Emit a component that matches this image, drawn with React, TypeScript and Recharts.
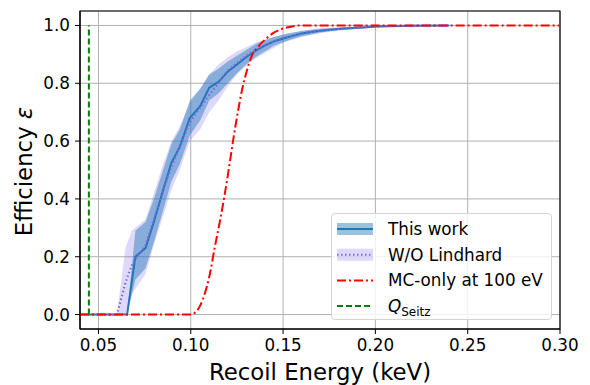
import React from 'react';
import {
  ComposedChart, Line, Area, XAxis, YAxis, CartesianGrid, ReferenceArea, Legend,
} from 'recharts';

// ---------- data ----------
const energyThisWork = [0.04, 0.0655, 0.07, 0.0755, 0.08, 0.085, 0.0895, 0.094, 0.0995, 0.105, 0.11, 0.115, 0.12, 0.125, 0.13, 0.135, 0.14, 0.145, 0.15, 0.155, 0.16, 0.165, 0.17, 0.175, 0.18, 0.185, 0.19, 0.195, 0.2, 0.21, 0.22, 0.24];
const effThisWork = [0, 0, 0.2, 0.23, 0.32, 0.43, 0.525, 0.58, 0.68, 0.72, 0.785, 0.805, 0.84, 0.865, 0.89, 0.912, 0.93, 0.945, 0.955, 0.964, 0.972, 0.977, 0.982, 0.985, 0.988, 0.99, 0.992, 0.994, 0.996, 0.998, 0.999, 1.0];

const energyBand = [0.04, 0.0655, 0.07, 0.0755, 0.08, 0.085, 0.0895, 0.094, 0.0995, 0.105, 0.11, 0.115, 0.12, 0.125, 0.13, 0.135, 0.14, 0.145, 0.15, 0.155, 0.16, 0.165, 0.17, 0.18, 0.19, 0.2, 0.22, 0.24];
const bandLow = [0, 0, 0.12, 0.16, 0.25, 0.36, 0.46, 0.52, 0.62, 0.67, 0.74, 0.765, 0.8, 0.835, 0.865, 0.89, 0.91, 0.93, 0.942, 0.953, 0.963, 0.969, 0.976, 0.984, 0.989, 0.994, 0.998, 1.0];
const bandHigh = [0, 0, 0.29, 0.32, 0.4, 0.5, 0.59, 0.64, 0.74, 0.78, 0.83, 0.85, 0.875, 0.895, 0.915, 0.935, 0.95, 0.96, 0.968, 0.975, 0.981, 0.985, 0.988, 0.992, 0.995, 0.998, 1.0, 1.0];

const energyNoLindhard = [0.04, 0.06, 0.0646, 0.068, 0.072, 0.0755, 0.08, 0.085, 0.0895, 0.094, 0.0995, 0.105, 0.11, 0.115, 0.12, 0.125, 0.13, 0.135, 0.14, 0.145, 0.15, 0.16, 0.17, 0.18, 0.19, 0.2, 0.22, 0.24];
const effNoLindhard = [0, 0, 0.11, 0.17, 0.21, 0.24, 0.33, 0.43, 0.51, 0.58, 0.665, 0.715, 0.76, 0.8, 0.845, 0.87, 0.895, 0.915, 0.93, 0.945, 0.955, 0.972, 0.982, 0.988, 0.992, 0.996, 0.999, 1.0];

const energyNoLindhardBand = [0.04, 0.06, 0.0646, 0.068, 0.0755, 0.08, 0.085, 0.0895, 0.094, 0.0995, 0.105, 0.11, 0.115, 0.12, 0.125, 0.13, 0.135, 0.14, 0.15, 0.16, 0.17, 0.18, 0.2, 0.24];
const noLindhardLow = [0, 0, 0, 0.07, 0.14, 0.24, 0.34, 0.43, 0.5, 0.6, 0.64, 0.7, 0.74, 0.79, 0.83, 0.86, 0.885, 0.905, 0.94, 0.96, 0.973, 0.982, 0.993, 1.0];
const noLindhardHigh = [0, 0, 0.23, 0.29, 0.33, 0.42, 0.52, 0.6, 0.65, 0.73, 0.78, 0.83, 0.865, 0.89, 0.91, 0.925, 0.94, 0.95, 0.97, 0.982, 0.99, 0.994, 0.999, 1.0];

const energyMC = [0.04, 0.1, 0.102, 0.105, 0.1077, 0.11, 0.1131, 0.116, 0.1185, 0.121, 0.123, 0.1255, 0.1278, 0.13, 0.133, 0.137, 0.1413, 0.145, 0.1485, 0.153, 0.1593, 0.3];
const effMC = [0, 0, 0.005, 0.03, 0.075, 0.13, 0.236, 0.33, 0.42, 0.52, 0.605, 0.7, 0.778, 0.835, 0.894, 0.93, 0.957, 0.975, 0.986, 0.994, 1.0, 1.0];

const qSeitzEnergy = 0.0448;
const qSeitzRange = [0, 1];

const xTicks = [0.05, 0.1, 0.15, 0.2, 0.25, 0.3];
const yTicks = [0, 0.2, 0.4, 0.6, 0.8, 1.0];

// ---------- derived tables ----------
const thisWorkData = energyThisWork.map((x, i) => ({ x, y: effThisWork[i] }));
const thisWorkBand = energyBand.map((x, i) => ({ x, band: [bandLow[i], bandHigh[i]] }));
const noLindhardData = energyNoLindhard.map((x, i) => ({ x, y: effNoLindhard[i] }));
const noLindhardBand = energyNoLindhardBand.map((x, i) => ({ x, band: [noLindhardLow[i], noLindhardHigh[i]] }));
const mcData = energyMC.map((x, i) => ({ x, y: effMC[i] }));
const seitzData = qSeitzRange.map((y) => ({ x: qSeitzEnergy, y }));

const FONT = 'DejaVu Sans, Verdana, sans-serif';
const C0 = '#1f77b4';
const LAV = '#7b68ee';

const XLabel = (props: any) => {
  const vb = props.viewBox || {};
  return (
    <text x={vb.x + vb.width / 2} y={vb.y + 51} textAnchor="middle" fontFamily={FONT} fontSize={22.8} fill="#000">
      Recoil Energy (keV)
    </text>
  );
};

const YLabel = (props: any) => {
  const vb = props.viewBox || {};
  const cx = vb.x + 32;
  const cy = vb.y + vb.height / 2 + 1.5;
  return (
    <text x={cx} y={cy} transform={`rotate(-90, ${cx}, ${cy})`} textAnchor="middle" fontFamily={FONT} fontSize={22.8} fill="#000">
      Efficiency <tspan fontStyle="italic">ε</tspan>
    </text>
  );
};

const LegendBox = () => {
  const rows = [15, 40.7, 66.4, 92];
  const tx = 56;
  const fs = 16.8;
  return (
    <div style={{ width: 221, height: 107, boxSizing: 'border-box', background: 'rgba(255,255,255,0.8)', border: '1px solid #d4d4d4', borderRadius: 4 }}>
      <svg width={219} height={105} style={{ display: 'block' }}>
        <rect x={5} y={rows[0] - 6} width={36} height={12} fill={C0} fillOpacity={0.45} />
        <line x1={5} x2={41} y1={rows[0]} y2={rows[0]} stroke={C0} strokeWidth={2} />
        <rect x={5} y={rows[1] - 6} width={36} height={12} fill={LAV} fillOpacity={0.25} />
        <line x1={5} x2={41} y1={rows[1]} y2={rows[1]} stroke={LAV} strokeWidth={2} strokeDasharray="1.5 2.5" />
        <line x1={5} x2={41} y1={rows[2]} y2={rows[2]} stroke="#ff0000" strokeWidth={2} strokeDasharray="9 3 2 3" />
        <line x1={5} x2={41} y1={rows[3]} y2={rows[3]} stroke="#008000" strokeWidth={2} strokeDasharray="6 3" />
        <g fontFamily={FONT} fontSize={fs} fill="#000">
          <text x={tx} y={rows[0] + 6}>This work</text>
          <text x={tx} y={rows[1] + 6}>W/O Lindhard</text>
          <text x={tx} y={rows[2] + 6}>MC-only at 100 eV</text>
          <text x={tx} y={rows[3] + 6}>
            <tspan fontStyle="italic">Q</tspan>
            <tspan fontSize={12} dy={4}>Seitz</tspan>
          </text>
        </g>
      </svg>
    </div>
  );
};

export default function App() {
  return (
    <div style={{ position: 'absolute', left: 0, top: 0, width: 590, height: 385, background: '#fff' }}>
      <ComposedChart width={590} height={385} margin={{ top: 11, right: 30, left: 0, bottom: 0 }}>
        <CartesianGrid stroke="#b0b0b0" strokeWidth={1} />
        <XAxis
          dataKey="x"
          type="number"
          domain={[0.04, 0.3]}
          ticks={xTicks}
          allowDataOverflow
          tickFormatter={(v: number) => v.toFixed(2)}
          height={56}
          tickSize={5}
          tickMargin={5}
          stroke="#000"
          tick={{ fill: '#000', fontSize: 16.8, fontFamily: FONT }}
          label={<XLabel />}
        />
        <YAxis
          type="number"
          domain={[-0.05, 1.05]}
          ticks={yTicks}
          allowDataOverflow
          tickFormatter={(v: number) => v.toFixed(1)}
          width={80}
          tickSize={5}
          tickMargin={5}
          stroke="#000"
          tick={{ fill: '#000', fontSize: 16.8, fontFamily: FONT }}
          label={<YLabel />}
        />
        <Area data={noLindhardBand} dataKey="band" type="linear" stroke="none" fill={LAV} fillOpacity={0.25} isAnimationActive={false} />
        <Area data={thisWorkBand} dataKey="band" type="linear" stroke="none" fill={C0} fillOpacity={0.45} isAnimationActive={false} />
        <Line data={thisWorkData} dataKey="y" type="linear" stroke={C0} strokeWidth={2} dot={false} isAnimationActive={false} />
        <Line data={noLindhardData} dataKey="y" type="linear" stroke={LAV} strokeWidth={2.2} strokeDasharray="1.5 2.5" dot={false} isAnimationActive={false} />
        <Line data={mcData} dataKey="y" type="monotone" stroke="#ff0000" strokeWidth={2} strokeDasharray="9 3 2 3" dot={false} isAnimationActive={false} />
        <Line data={seitzData} dataKey="y" type="linear" stroke="#008000" strokeWidth={2} strokeDasharray="6 3" dot={false} isAnimationActive={false} />
        <ReferenceArea x1={0.04} x2={0.3} y1={-0.05} y2={1.05} fill="none" stroke="#000" strokeWidth={1.2} />
        <Legend
          layout="horizontal"
          verticalAlign="middle"
          align="center"
          wrapperStyle={{ left: 331, top: 213, width: 221, height: 107 }}
          content={() => <LegendBox />}
        />
      </ComposedChart>
    </div>
  );
}
